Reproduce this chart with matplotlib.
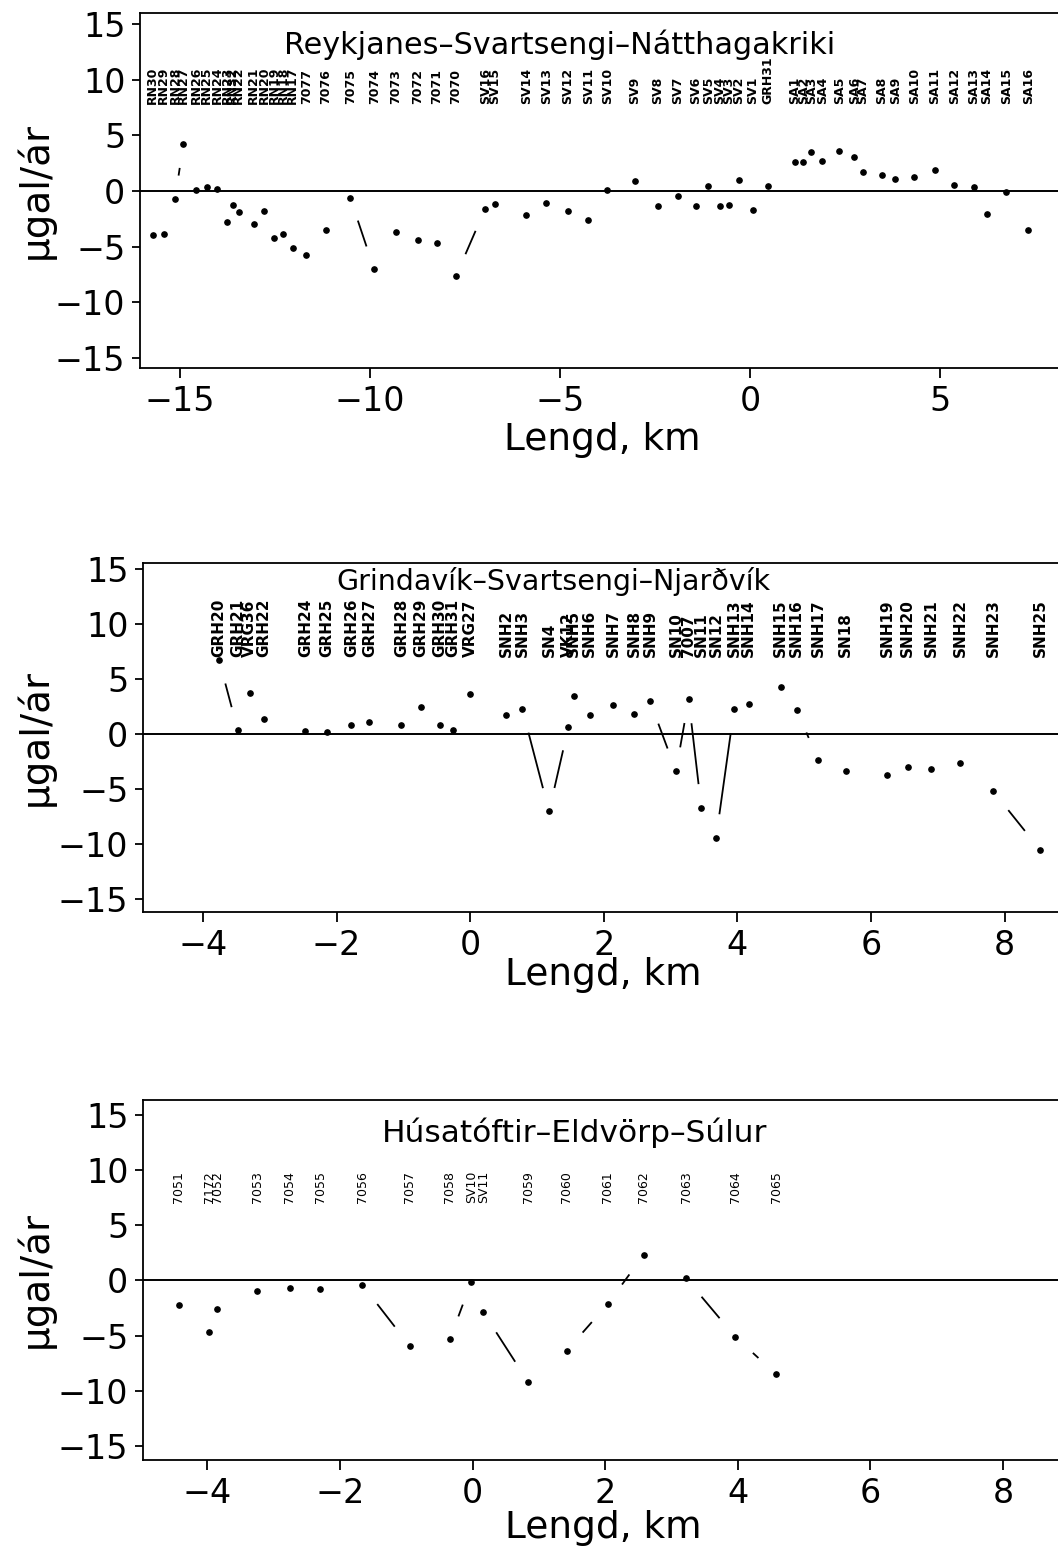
import numpy as np
import matplotlib
matplotlib.use('Agg')
import matplotlib.pyplot as plt

# gravity change along three profiles, distance in km, change in microgal per year

# Reykjanes - Svartsengi - Nátthagakriki
rn_names = ['RN30', 'RN29', 'RN28', 'RN27', 'RN26', 'RN25', 'RN24', 'RN23', 'RN32', 'RN22',
            'RN21', 'RN20', 'RN19', 'RN18', 'RN17', '7077', '7076', '7075', '7074', '7073',
            '7072', '7071', '7070', 'SV16', 'SV15', 'SV14', 'SV13', 'SV12', 'SV11', 'SV10',
            'SV9', 'SV8', 'SV7', 'SV6', 'SV5', 'SV4', 'SV3', 'SV2', 'SV1', 'GRH31',
            'SA1', 'SA2', 'SA3', 'SA4', 'SA5', 'SA6', 'SA7', 'SA8', 'SA9', 'SA10',
            'SA11', 'SA12', 'SA13', 'SA14', 'SA15', 'SA16']
rn_dist = [-15.72, -15.43, -15.13, -14.91, -14.58, -14.30, -14.02, -13.76, -13.61, -13.45,
           -13.06, -12.78, -12.52, -12.28, -12.03, -11.67, -11.16, -10.52, -9.89, -9.32,
           -8.74, -8.24, -7.74, -6.97, -6.71, -5.89, -5.36, -4.80, -4.26, -3.76,
           -3.03, -2.43, -1.90, -1.43, -1.10, -0.80, -0.56, -0.30, 0.07, 0.47,
           1.17, 1.40, 1.61, 1.90, 2.35, 2.74, 2.97, 3.47, 3.82, 4.32,
           4.86, 5.37, 5.89, 6.23, 6.74, 7.32]
rn_grav = [-3.93, -3.86, -0.75, 4.22, 0.12, 0.33, 0.15, -2.79, -1.29, -1.86,
           -2.94, -1.77, -4.19, -3.86, -5.09, -5.72, -3.53, -0.60, -7.03, -3.65,
           -4.43, -4.67, -7.66, -1.59, -1.14, -2.18, -1.08, -1.77, -2.61, 0.09,
           0.93, -1.31, -0.48, -1.38, 0.45, -1.38, -1.23, 1.02, -1.73, 0.48,
           2.62, 2.60, 3.52, 2.72, 3.62, 3.08, 1.71, 1.47, 1.08, 1.26,
           1.92, 0.54, 0.33, -2.10, -0.12, -3.46]

# Grindavík - Svartsengi - Njarðvík
gn_names = ['GRH20', 'GRH21', 'VRG36', 'GRH22', 'GRH24', 'GRH25', 'GRH26', 'GRH27', 'GRH28', 'GRH29',
            'GRH30', 'GRH31', 'VRG27', 'SNH2', 'SNH3', 'SN4', 'VK12', 'SNH5', 'SNH6', 'SNH7',
            'SNH8', 'SNH9', 'SN10', '7007', 'SN11', 'SN12', 'SNH13', 'SNH14', 'SNH15', 'SNH16',
            'SNH17', 'SN18', 'SNH19', 'SNH20', 'SNH21', 'SNH22', 'SNH23', 'SNH25']
gn_dist = [-3.76, -3.48, -3.30, -3.09, -2.47, -2.15, -1.78, -1.51, -1.03, -0.74,
           -0.45, -0.26, 0.00, 0.54, 0.78, 1.18, 1.47, 1.55, 1.79, 2.14,
           2.45, 2.69, 3.08, 3.27, 3.46, 3.68, 3.95, 4.17, 4.65, 4.89,
           5.21, 5.62, 6.24, 6.55, 6.90, 7.34, 7.83, 8.53]
gn_grav = [6.67, 0.29, 3.68, 1.31, 0.25, 0.11, 0.83, 1.10, 0.74, 2.45,
           0.83, 0.29, 3.56, 1.73, 2.21, -7.07, 0.62, 3.41, 1.67, 2.63,
           1.76, 2.96, -3.40, 3.12, -6.76, -9.49, 2.22, 2.67, 4.20, 2.12,
           -2.40, -3.42, -3.75, -3.06, -3.21, -2.66, -5.24, -10.54]

# Húsatóftir - Eldvörp - Súlur
hs_names = ['7051', '7172', '7052', '7053', '7054', '7055', '7056', '7057', '7058', 'SV10',
            'SV11', '7059', '7060', '7061', '7062', '7063', '7064', '7065']
hs_dist = [-4.43, -3.97, -3.85, -3.25, -2.76, -2.30, -1.66, -0.95, -0.34, -0.02,
           0.16, 0.84, 1.42, 2.04, 2.58, 3.22, 3.96, 4.58]
hs_grav = [-2.22, -4.70, -2.56, -0.95, -0.68, -0.80, -0.41, -5.91, -5.30, -0.14,
           -2.86, -9.20, -6.36, -2.13, 2.31, 0.20, -5.09, -8.50]

GAP = 25  # empty pixels left at each end of a connecting segment

W, H = 1058, 1559
fig = plt.figure(figsize=(W / 100, H / 100), dpi=100)


def make_axes(left, top, bottom):
    # axes box given in pixels, runs off the right edge of the page
    return fig.add_axes([left / W, 1 - bottom / H, 1 - left / W, (bottom - top) / H])


def draw_profile(ax, dist, grav, names, title, xlim, ylim, xticks,
                 label_y, label_size, label_weight, title_pos, title_size, xlab_y, ylab_x):
    ax.set_xlim(*xlim)
    ax.set_ylim(*ylim)
    ax.axhline(0, color='black', lw=1.4, zorder=1)
    ax.plot(dist, grav, 'o', color='black', ms=3.8, zorder=3)

    # points joined with broken segments, short segments disappear
    pts = ax.transData.transform(np.column_stack([dist, grav]))
    inv = ax.transData.inverted()
    for p, q in zip(pts[:-1], pts[1:]):
        d = np.hypot(*(q - p))
        if d > 2 * GAP:
            f = GAP / d
            a = inv.transform(p + f * (q - p))
            b = inv.transform(q - f * (q - p))
            ax.plot([a[0], b[0]], [a[1], b[1]], color='black', lw=1.3, zorder=2)

    # station names along the top
    for name, x in zip(names, dist):
        ax.text(x, label_y, name, rotation=90, ha='center', va='bottom',
                fontsize=label_size, fontweight=label_weight)

    ax.text(title_pos[0], title_pos[1], title, transform=ax.transAxes,
            ha='center', va='center', fontsize=title_size)
    ax.text(0.503, xlab_y, 'Lengd, km', transform=ax.transAxes,
            ha='center', va='center', fontsize=27)
    ax.text(ylab_x, 0.5, 'µgal/ár', transform=ax.transAxes, rotation=90,
            ha='center', va='center', fontsize=28)

    ax.set_xticks(xticks)
    ax.set_yticks([-15, -10, -5, 0, 5, 10, 15])
    ax.tick_params(axis='x', direction='out', length=7, width=1.3, labelsize=24, pad=5)
    ax.tick_params(axis='y', direction='out', length=5.5, width=1.3, labelsize=24, pad=5)
    ax.spines['right'].set_visible(False)
    for side in ['left', 'top', 'bottom']:
        ax.spines[side].set_linewidth(1.3)


ax1 = make_axes(140, 13, 368)
draw_profile(ax1, rn_dist, rn_grav, rn_names, 'Reykjanes–Svartsengi–Nátthagakriki',
             (-16.05, 8.1), (-15.9, 16.0), [-15, -10, -5, 0, 5],
             7.8, 9, 'bold', (0.4575, 0.91), 21.8, -0.203, -0.114)

ax2 = make_axes(143, 563, 912)
draw_profile(ax2, gn_dist, gn_grav, gn_names, 'Grindavík–Svartsengi–Njarðvík',
             (-4.9, 8.8), (-16.2, 15.5), [-4, -2, 0, 2, 4, 6, 8],
             7.0, 11, 'bold', (0.449, 0.946), 20.5, -0.18, -0.118)

ax3 = make_axes(143, 1100, 1460)
draw_profile(ax3, hs_dist, hs_grav, hs_names, 'Húsatóftir–Eldvörp–Súlur',
             (-4.97, 8.83), (-16.27, 16.36), [-4, -2, 0, 2, 4, 6, 8],
             7.0, 9, 'normal', (0.472, 0.908), 22.5, -0.19, -0.118)

fig.savefig('out.png', dpi=100)
